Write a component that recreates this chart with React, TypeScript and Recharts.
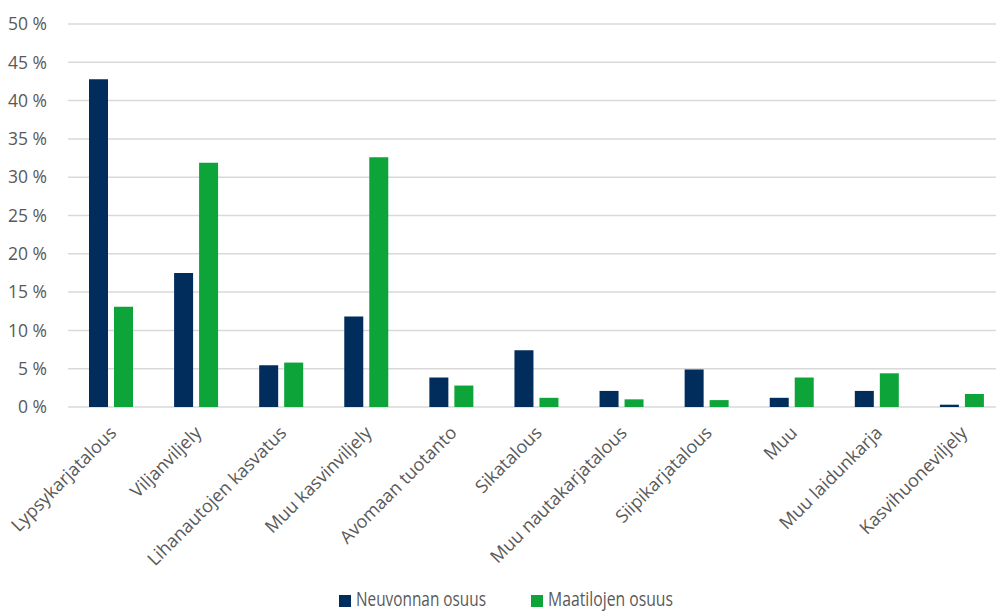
import React from "react";
import { BarChart, Bar, XAxis, YAxis, CartesianGrid, Legend } from "recharts";

const categories = [
  "Lypsykarjatalous",
  "Viljanviljely",
  "Lihanautojen kasvatus",
  "Muu kasvinviljely",
  "Avomaan tuotanto",
  "Sikatalous",
  "Muu nautakarjatalous",
  "Siipikarjatalous",
  "Muu",
  "Muu laidunkarja",
  "Kasvihuoneviljely",
];
const neuvonnanOsuus = [42.8, 17.5, 5.45, 11.8, 3.85, 7.4, 2.1, 4.9, 1.2, 2.1, 0.3];
const maatilojenOsuus = [13.1, 31.9, 5.8, 32.6, 2.8, 1.2, 1.0, 0.9, 3.85, 4.4, 1.7];
const yTicks = [0, 5, 10, 15, 20, 25, 30, 35, 40, 45, 50];
const seriesNames = ["Neuvonnan osuus", "Maatilojen osuus"];
const seriesColors = ["#002D5B", "#0DA43A"];

const data = categories.map((c, i) => ({
  name: c,
  neuvonta: neuvonnanOsuus[i],
  maatilat: maatilojenOsuus[i],
}));

const TEXT = "#595959";
const FONT = "'Open Sans', 'Noto Sans', sans-serif";

const XTick = (props: any) => {
  const { x, y, payload } = props;
  return (
    <g transform={`translate(${x + 2},${y + 22})`}>
      <text
        transform="rotate(-45)"
        textAnchor="end"
        dominantBaseline="central"
        fill={TEXT}
        fontSize={18}
        fontFamily={FONT}
      >
        {payload.value}
      </text>
    </g>
  );
};

const LegendContent = () => {
  const lefts = [339, 531];
  const widths = [130, 125];
  return (
    <svg width={996} height={30} style={{ display: "block" }}>
      {seriesNames.map((n, i) => (
        <g key={n}>
          <rect x={lefts[i]} y={13} width={12} height={12} fill={seriesColors[i]} />
          <text
            x={lefts[i] + 17}
            y={24}
            fontFamily={FONT}
            fontSize={19.5}
            fill={TEXT}
            textLength={widths[i]}
            lengthAdjust="spacingAndGlyphs"
          >
            {n}
          </text>
        </g>
      ))}
    </svg>
  );
};

export default function App() {
  return (
    <div
      style={{
        position: "absolute",
        left: 0,
        top: 0,
        width: 996,
        height: 612,
        overflow: "hidden",
        background: "#fff",
      }}
    >
      <BarChart
        width={1004}
        height={612}
        data={data}
        margin={{ top: 24, right: 0, left: 0, bottom: 0 }}
        barSize={19}
        barGap={6}
      >
        <CartesianGrid horizontal vertical={false} stroke="#d9d9d9" strokeWidth={1.5} />
        <XAxis
          dataKey="name"
          interval={0}
          height={175}
          tickLine={false}
          axisLine={false}
          tickSize={0}
          tickMargin={0}
          tick={<XTick />}
        />
        <YAxis
          width={68}
          domain={[0, 50]}
          ticks={yTicks}
          interval={0}
          axisLine={false}
          tickLine={false}
          tickSize={0}
          tickMargin={21}
          tickFormatter={(v: number) => `${v} %`}
          tick={{ fill: TEXT, fontSize: 17.5, fontFamily: FONT }}
        />
        <Legend verticalAlign="bottom" height={30} content={<LegendContent />} />
        <Bar dataKey="neuvonta" name={seriesNames[0]} fill={seriesColors[0]} isAnimationActive={false} />
        <Bar dataKey="maatilat" name={seriesNames[1]} fill={seriesColors[1]} isAnimationActive={false} />
      </BarChart>
    </div>
  );
}
